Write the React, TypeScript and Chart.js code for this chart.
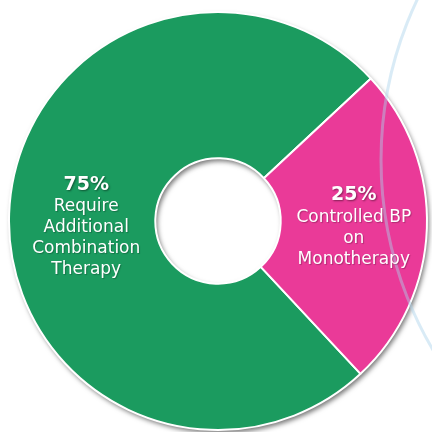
import React, { useEffect, useRef } from "react";
import { Chart, registerables } from "chart.js";

Chart.register(...registerables);

const categories: string[][] = [
  ["Require", "Additional", "Combination", "Therapy"],
  ["Controlled BP", "on", "Monotherapy"],
];
const values: number[] = [75, 25];
const colors: string[] = ["#1b9b5f", "#ea3a98"];

const ringShadowPlugin = {
  id: "ringShadow",
  beforeDatasetsDraw(chart: any) {
    const meta = chart.getDatasetMeta(0);
    const el = meta.data[0];
    if (!el) return;
    const { x, y, innerRadius, outerRadius } = el.getProps(["x", "y", "innerRadius", "outerRadius"], true);
    const ctx = chart.ctx;
    ctx.save();
    ctx.beginPath();
    ctx.arc(x, y, outerRadius, 0, Math.PI * 2);
    ctx.arc(x, y, innerRadius, 0, Math.PI * 2, true);
    ctx.closePath();
    ctx.shadowColor = "rgba(0,0,0,0.55)";
    ctx.shadowBlur = 5;
    ctx.shadowOffsetX = 2;
    ctx.shadowOffsetY = 3;
    ctx.fillStyle = "#ffffff";
    ctx.fill("evenodd");
    ctx.restore();
  },
};

const decoArcPlugin = {
  id: "decoArc",
  afterDatasetsDraw(chart: any) {
    const meta = chart.getDatasetMeta(0);
    const el = meta.data[0];
    if (!el) return;
    const { x, y, outerRadius } = el.getProps(["x", "y", "outerRadius"], true);
    const ctx = chart.ctx;
    ctx.save();
    ctx.beginPath();
    ctx.arc(x + outerRadius * 2.565, y - outerRadius * 0.292, outerRadius * 1.785, 0, Math.PI * 2);
    ctx.strokeStyle = "rgba(170,210,235,0.45)";
    ctx.lineWidth = 3;
    ctx.stroke();
    ctx.restore();
  },
};

const sliceLabelPlugin = {
  id: "sliceLabels",
  afterDatasetsDraw(chart: any) {
    const meta = chart.getDatasetMeta(0);
    const ctx = chart.ctx;
    const ds = chart.data.datasets[0];
    meta.data.forEach((el: any, i: number) => {
      const c = el.getCenterPoint();
      const { y: cy } = el.getProps(["y"], true);
      const lines = chart.data.labels[i] as string[];
      const lh = 21;
      const total = lines.length + 1;
      const top = cy + 7 - ((total - 1) * lh) / 2;
      const cx = c.x + (c.x < el.x ? 4 : 0);
      ctx.save();
      ctx.textAlign = "center";
      ctx.textBaseline = "middle";
      ctx.fillStyle = "#ffffff";
      ctx.shadowColor = "rgba(0,0,0,0.45)";
      ctx.shadowBlur = 2;
      ctx.shadowOffsetX = 1;
      ctx.shadowOffsetY = 1;
      ctx.font = "bold 19px 'DejaVu Sans'";
      ctx.fillText(`${ds.data[i]}%`, cx, top - 1);
      ctx.shadowColor = "rgba(0,0,0,0.25)";
      ctx.shadowBlur = 1;
      ctx.font = "17px 'DejaVu Sans'";
      lines.forEach((ln, k) => {
        ctx.fillText(ln, cx, top + (k + 1) * lh);
      });
      ctx.restore();
    });
  },
};

export default function App() {
  const ref = useRef<HTMLCanvasElement | null>(null);
  useEffect(() => {
    if (!ref.current) return;
    const chart = new Chart(ref.current, {
      type: "doughnut",
      data: {
        labels: categories as any,
        datasets: [
          {
            data: values,
            backgroundColor: colors,
            borderColor: "#ffffff",
            borderWidth: 2,
          },
        ],
      },
      options: {
        responsive: false,
        animation: false,
        cutout: "30%",
        rotation: 137,
        layout: { padding: { left: 8, right: 4, top: 11, bottom: 1 } },
        plugins: {
          legend: { display: false },
          tooltip: { enabled: false },
        },
      },
      plugins: [ringShadowPlugin, decoArcPlugin, sliceLabelPlugin],
    });
    return () => chart.destroy();
  }, []);
  return (
    <div style={{ position: "absolute", left: 0, top: 0, width: 432, height: 432, background: "#fff" }}>
      <canvas ref={ref} width={432} height={432} />
    </div>
  );
}
